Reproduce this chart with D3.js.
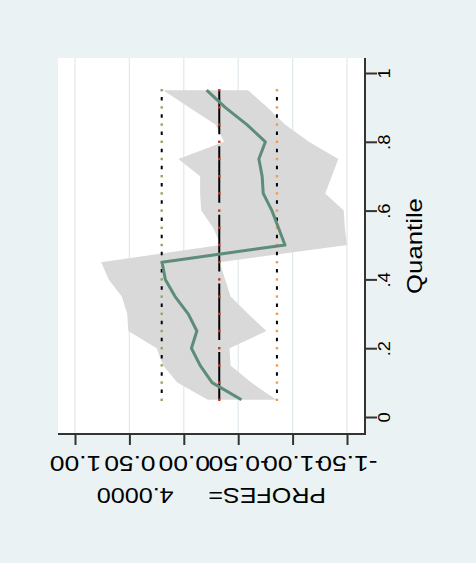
<!DOCTYPE html>
<html>
<head>
<meta charset="utf-8">
<script src="https://cdn.jsdelivr.net/npm/d3@7"></script>
<style>
  html, body { margin: 0; padding: 0; background: #eaf2f3; }
  svg { display: block; }
  text { font-family: "Liberation Sans", Arial, sans-serif; fill: #000; }
</style>
</head>
<body>
<svg id="chart" width="476" height="563"></svg>
<script>
// ---- data ----
const quantiles = [0.05,0.10,0.15,0.20,0.25,0.30,0.35,0.40,0.45,0.50,0.55,0.60,0.65,0.70,0.75,0.80,0.85,0.90,0.95];
const coef   = [-0.53,-0.26,-0.15,-0.07,-0.12,-0.04,0.08,0.17,0.20,-0.93,-0.87,-0.81,-0.73,-0.72,-0.69,-0.75,-0.58,-0.38,-0.21];
const ciHigh = [-0.22,0.06,0.19,0.25,0.51,0.52,0.57,0.69,0.76,-0.34,-0.27,-0.16,-0.15,-0.15,0.05,-0.37,-0.29,-0.05,0.19];
const ciLow  = [-0.85,-0.62,-0.43,-0.42,-0.76,-0.59,-0.43,-0.38,-0.33,-1.50,-1.48,-1.47,-1.30,-1.36,-1.42,-1.15,-0.93,-0.77,-0.59];
const olsCoef = -0.326, olsLow = -0.856, olsHigh = 0.203;
const valueTicks = [-1.5,-1.0,-0.5,0.0,0.5,1.0];
const quantileTicks = [0,0.2,0.4,0.6,0.8,1];
const valueTitle = "PROFES=     4.0000";
const quantileTitle = "Quantile";

// ---- layout ----
const svg = d3.select("#chart");
const plot = {left: 58, right: 365, top: 58, bottom: 434};
const x = d3.scaleLinear().domain([-1.5, 1.0]).range([347, 75]);
const y = d3.scaleLinear().domain([0, 1]).range([417, 73]);

svg.append("rect").attr("width",476).attr("height",563).attr("fill","#eaf2f3");
svg.append("rect").attr("x",plot.left).attr("y",plot.top)
  .attr("width",plot.right-plot.left).attr("height",plot.bottom-plot.top).attr("fill","#fff");

// gridlines
svg.append("g").selectAll("line").data(valueTicks).join("line")
  .attr("x1",d=>x(d)).attr("x2",d=>x(d)).attr("y1",plot.top).attr("y2",plot.bottom)
  .attr("stroke","#dfe9ec").attr("stroke-width",1.2);

const rows = quantiles.map((q,i)=>({q, c: coef[i], lo: ciLow[i], hi: ciHigh[i]}));

// CI band
svg.append("path").datum(rows)
  .attr("d", d3.area().x0(d=>x(d.lo)).x1(d=>x(d.hi)).y(d=>y(d.q)))
  .attr("fill","#d9d9d9");

// OLS lines
const qMin = quantiles[0], qMax = quantiles[quantiles.length-1];
const olsLines = [
  {v: olsHigh, dash: "3.5,13.7", off: 10.35, mark: "#8aa865"},
  {v: olsCoef, dash: "56.6,12", off: 8.8, mark: "#c0392b"},
  {v: olsLow,  dash: "3.5,13.7", off: 10.35, mark: "#f39c45"}
];
olsLines.forEach(o=>{
  svg.append("line").attr("x1",x(o.v)).attr("x2",x(o.v))
    .attr("y1",y(qMin)).attr("y2",y(qMax))
    .attr("stroke","#000").attr("stroke-width",2)
    .attr("stroke-dasharray",o.dash).attr("stroke-dashoffset",o.off);
  svg.append("g").selectAll("rect").data(quantiles).join("rect")
    .attr("x",x(o.v)-1.2).attr("y",d=>y(d)-1.2).attr("width",2.4).attr("height",2.4)
    .attr("fill",o.mark);
});

// coefficient line
svg.append("path").datum(rows)
  .attr("d", d3.line().x(d=>x(d.c)).y(d=>y(d.q)))
  .attr("fill","none").attr("stroke","#5d8c78").attr("stroke-width",3)
  .attr("stroke-linejoin","round");

// axes lines
svg.append("line").attr("x1",plot.left).attr("x2",plot.right+1).attr("y1",plot.bottom).attr("y2",plot.bottom)
  .attr("stroke","#333").attr("stroke-width",2);
svg.append("line").attr("x1",plot.right).attr("x2",plot.right).attr("y1",plot.top).attr("y2",plot.bottom+1)
  .attr("stroke","#333").attr("stroke-width",2);

// value axis (bottom, labels upside-down)
const bAxis = svg.append("g").attr("transform",`translate(0,${plot.bottom})`)
  .call(d3.axisBottom(x).tickValues(valueTicks).tickSize(11).tickSizeOuter(0)
    .tickFormat(d=>d.toFixed(2)));
bAxis.select(".domain").remove();
bAxis.selectAll(".tick line").attr("stroke","#333").attr("stroke-width",2);
bAxis.selectAll(".tick text").attr("y",null).attr("dy",null)
  .attr("transform","translate(0,22) rotate(180) scale(1.2,1)")
  .attr("text-anchor","middle").style("font-size","22px").attr("fill","#000");

// quantile axis (right, labels rotated)
const rAxis = svg.append("g").attr("transform",`translate(${plot.right},0)`)
  .call(d3.axisRight(y).tickValues(quantileTicks).tickSize(12).tickSizeOuter(0)
    .tickFormat(d=> d===0 ? "0" : d===1 ? "1" : String(d).replace(/^0/,"")));
rAxis.select(".domain").remove();
rAxis.selectAll(".tick line").attr("stroke","#333").attr("stroke-width",2);
rAxis.selectAll(".tick text").attr("x",null).attr("dy",null)
  .attr("transform","translate(25,0) rotate(-90) scale(1.15,1)")
  .attr("text-anchor","middle").style("font-size","16px").attr("fill","#000");

// titles
svg.append("text").attr("transform",`translate(${(plot.left+plot.right)/2},488) rotate(180) scale(1.14,1)`)
  .attr("text-anchor","middle").style("font-size","22px").style("white-space","pre")
  .text(valueTitle);
svg.append("text").attr("transform",`translate(422,${(plot.top+plot.bottom)/2}) rotate(-90) scale(1.17,1)`)
  .attr("text-anchor","middle").style("font-size","22px")
  .text(quantileTitle);
</script>
</body>
</html>
